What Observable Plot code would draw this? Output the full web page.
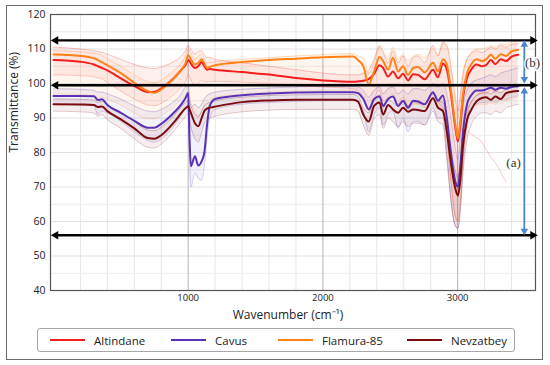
<!DOCTYPE html>
<html><head><meta charset="utf-8">
<script src="https://cdn.jsdelivr.net/npm/d3@7"></script>
<script src="https://cdn.jsdelivr.net/npm/@observablehq/plot@0.6"></script>
<style>
body{margin:0;background:#fff;font-family:"Open Sans",sans-serif;}
#fig{position:relative;width:550px;height:365px;overflow:hidden;background:#fff}
#frame{position:absolute;left:6px;top:5px;width:537px;height:355px;border:1.5px solid #6b6b6b;box-sizing:border-box;pointer-events:none}
#chart{position:absolute;left:0;top:0;}
#legend{position:absolute;left:37px;top:328px;width:478px;height:24px;border:1px solid #a8a8a8;border-radius:3px;box-sizing:border-box;background:#fff}
.item{position:absolute;top:0;height:22px;display:flex;align-items:center;font-size:11.5px;color:#222}
.sw{display:inline-block;width:35px;height:2.5px;margin-right:9px}
</style></head>
<body>
<div id="fig"><div id="chart"></div><div id="legend"></div><div id="frame"></div></div>
<script>
// ---- data ----
const varieties = ["Altindane", "Cavus", "Flamura-85", "Nevzatbey"];
const colors = ["#f21d1d", "#5a32b4", "#ff8117", "#7a0c10"];
const wn = [0,200,300,330,360,400,500,600,700,750,800,900,950,980,1000,1010,1020,1050,1075,1100,1120,1140,1160,1200,1400,1600,1800,2000,2225,2260,2300,2340,2380,2420,2447,2484,2520,2558,2595,2632,2670,2706,2756,2817,2854,2891,2920,2950,2980,3002,3020,3040,3070,3100,3140,3180,3210,3247,3280,3320,3360,3400,3450];
const altindane = [106.8,106.3,105.5,105.0,104.5,103.8,101.5,99.3,97.5,97.6,98.6,101.8,104.0,105.3,106.8,106.4,105.8,104.5,105.0,106.2,105.0,104.0,104.2,104.0,103.3,102.6,101.6,100.9,100.5,100.6,100.8,101.3,102.8,105.3,104.5,102.0,103.5,101.5,102.8,100.9,102.7,102.5,101.2,104.0,101.8,105.8,104.0,97.0,88.0,83.2,88.0,96.0,101.6,104.0,105.5,105.0,105.3,106.8,105.6,107.0,106.5,107.8,108.3];
const cavus = [96.4,96.4,96.3,95.2,95.4,93.8,91.5,89.2,87.2,87.2,88.3,91.8,94.0,95.8,97.3,84.0,76.0,78.9,76.2,77.5,80.0,88.0,93.5,95.5,96.6,97.1,97.4,97.5,97.5,97.2,95.5,92.5,95.5,96.3,93.5,95.5,96.2,93.5,95.0,93.0,95.0,94.8,94.0,97.5,95.0,96.5,90.0,80.0,72.0,70.0,76.0,86.0,94.0,96.5,98.0,98.0,98.3,98.8,98.2,98.8,98.5,99.0,99.2];
const flamura = [108.4,108.0,107.3,106.8,106.2,105.3,103.0,100.2,97.8,97.3,98.3,101.8,104.0,105.8,108.2,107.8,107.0,105.5,106.0,107.0,105.8,104.5,104.8,105.3,106.2,106.8,107.2,107.6,107.8,106.8,105.0,99.8,103.5,107.7,106.5,104.0,107.5,103.5,105.0,102.5,104.5,104.8,103.2,106.0,103.5,107.0,105.5,98.0,89.0,84.0,89.0,97.0,103.0,105.5,107.0,106.5,107.0,108.3,107.2,108.5,108.0,109.3,109.8];
const nevzatbey = [94.0,93.9,93.8,93.2,93.3,92.0,89.6,87.0,84.2,84.0,85.0,89.0,91.5,92.8,93.4,92.5,91.5,88.5,87.6,90.0,92.0,92.7,93.0,93.3,94.6,95.1,95.3,95.3,95.3,94.8,91.0,89.0,93.5,94.5,91.0,93.8,92.5,91.5,93.0,91.8,92.5,92.3,92.0,95.7,93.0,92.0,86.0,77.0,70.0,67.5,72.0,82.0,89.5,92.3,94.8,95.8,96.0,95.3,96.2,95.5,97.2,97.6,97.8];
// replicate spread (upper / lower faint lines)
const altHi = [110.5,110.0,109.5,109.3,109.0,108.5,107.0,105.5,104.5,104.3,104.8,106.5,108.0,109.5,111.0,110.5,110.0,108.5,109.3,109.5,108.3,107.5,107.5,107.0,106.0,105.0,104.0,103.0,102.5,102.5,103.0,104.0,107.0,111.0,109.0,106.0,109.5,106.0,108.0,105.0,107.5,108.0,106.0,111.0,108.0,112.0,111.0,105.0,97.0,92.0,97.0,103.0,107.0,108.5,109.5,109.0,109.5,110.5,110.0,111.0,110.5,111.3,111.5];
const altLo = [102.5,102.3,102.0,101.5,101.3,100.2,97.8,95.5,93.8,93.6,94.3,97.0,99.0,100.5,102.5,102.0,101.0,99.5,100.0,101.0,100.5,100.5,100.5,100.6,100.4,100.0,99.5,99.0,98.5,98.0,96.0,93.0,96.0,98.0,95.0,96.0,97.0,94.0,96.0,93.5,95.0,95.0,94.0,97.0,94.5,93.0,85.0,72.0,62.0,60.0,66.0,78.0,90.0,94.5,96.5,97.0,97.0,98.0,97.5,98.5,98.5,99.0,99.5];
const cavHi = [98.5,98.3,98.0,97.5,97.5,97.0,95.5,93.5,92.0,91.8,92.5,95.0,97.0,99.0,99.5,97.0,93.0,94.0,93.0,94.0,95.5,96.5,97.0,97.5,98.3,98.7,99.0,99.2,99.2,99.0,98.0,96.0,98.0,99.0,97.0,98.5,99.0,97.0,98.0,97.0,98.5,98.5,98.0,100.0,99.0,100.0,97.0,90.0,82.0,78.0,84.0,93.0,98.0,100.0,101.0,101.5,102.0,102.5,102.0,103.0,103.5,104.0,104.5];
const cavLo = [94.0,93.8,93.5,91.0,92.0,91.5,89.0,86.0,83.5,83.0,84.0,88.0,91.0,93.0,94.0,78.0,70.0,74.0,72.5,72.0,76.0,84.0,90.0,92.5,94.0,94.5,94.8,95.0,95.0,94.5,92.0,86.0,91.0,93.0,88.0,91.0,92.0,87.0,90.0,86.0,89.0,89.0,88.0,93.0,90.0,90.0,80.0,67.0,59.0,58.0,64.0,76.0,88.0,92.0,94.0,94.5,94.5,95.0,94.5,95.5,95.5,96.0,96.5];
const flaHi = [109.5,109.2,108.8,108.6,108.2,107.2,105.0,102.5,100.5,100.2,101.0,104.0,106.0,108.0,110.0,109.8,109.0,107.0,108.0,108.5,107.0,106.0,106.0,106.3,107.0,107.5,108.0,108.4,108.7,108.0,107.5,103.0,106.0,110.5,109.5,107.0,110.5,107.0,108.5,106.5,108.0,108.5,107.5,110.0,108.0,111.5,111.0,105.0,96.0,90.0,95.0,102.0,107.0,109.0,110.0,110.0,110.3,111.0,110.5,111.5,111.3,112.0,112.3];
const flaLo = [97.0,96.8,96.5,95.8,96.0,95.5,93.8,91.5,89.8,89.8,90.8,93.5,95.5,96.5,97.5,96.0,94.5,91.5,90.5,92.0,94.0,95.0,95.5,96.0,97.0,97.5,97.8,98.0,98.0,97.5,95.5,92.0,95.0,97.0,94.0,95.5,96.0,93.0,95.0,92.5,94.0,94.0,93.0,96.0,93.5,92.0,84.0,72.0,62.0,60.0,66.0,78.0,88.0,92.0,93.5,94.0,94.0,94.5,94.0,95.0,95.0,95.5,96.0];
const nevHi = [95.5,95.4,95.2,94.5,94.8,93.8,91.5,89.0,86.5,86.3,87.3,91.0,93.3,94.5,95.0,94.5,93.5,91.0,90.5,92.0,93.5,94.2,94.5,95.0,96.0,96.5,96.7,96.8,96.8,96.3,93.0,91.5,95.0,96.0,93.0,95.3,94.5,93.5,94.5,93.5,94.5,94.3,94.0,97.0,95.0,94.5,89.0,81.0,75.0,73.0,77.0,86.0,92.0,94.5,96.5,97.3,97.5,97.0,97.8,97.3,98.5,99.0,99.2];
const nevLo = [92.0,91.8,91.5,90.5,91.0,89.5,87.0,84.0,81.5,81.3,82.5,86.5,89.0,90.5,91.3,89.5,87.5,84.0,83.0,86.0,88.5,89.5,90.0,90.5,91.8,92.3,92.5,92.5,92.5,92.0,88.0,85.0,90.0,91.0,87.0,90.0,89.0,87.5,89.0,87.5,88.5,88.5,88.0,92.0,89.0,88.0,78.0,66.0,59.0,58.0,63.0,74.0,84.0,88.0,90.5,91.5,91.5,91.0,92.0,91.5,93.0,93.5,94.0];
// one stray faint replicate at the right
const strayWn = [3080,3130,3170,3210,3250,3290,3330,3360];
const strayT = [86,84.5,83.5,81,78.5,76.5,73.5,71.5];
// ticks and annotations
const xTicks = [1000, 2000, 3000];
const xMinor = [200,400,600,800,1200,1400,1600,1800,2200,2400,2600,2800,3200,3400];
const yTicks = [40,50,60,70,80,90,100,110,120];
const yMinor = [45,55,65,75,85,95,105,115];
const arrowLevels = [112.5, 99.5, 56];
const arrowSpan = [-20, 3595];
const bracketX = 3495;
const brackets = [{name:"(b)", top:112.5, bottom:100.0, lx:3556, ly:106}, {name:"(a)", top:99.0, bottom:56.0, lx:3415, ly:77}];

const means = [altindane, cavus, flamura, nevzatbey];
const his = [altHi, cavHi, flaHi, nevHi];
const los = [altLo, cavLo, flaLo, nevLo];

const rowsFor = i => wn.map((w, j) => ({wn: w, t: means[i][j], hi: his[i][j], lo: los[i][j]}));
const tables = varieties.map((_, i) => rowsFor(i));
const stray = strayWn.map((w, j) => ({wn: w, t: strayT[j]}));
const curve = "monotone-x";

const bandMarks = tables.map((rows, i) => Plot.areaY(rows, {x: "wn", y1: "lo", y2: "hi", fill: colors[i], fillOpacity: 0.07, curve}));
const thinMarks = tables.flatMap((rows, i) => [
  Plot.lineY(rows, {x: "wn", y: "hi", stroke: colors[i], strokeOpacity: 0.3, strokeWidth: 0.8, curve}),
  Plot.lineY(rows, {x: "wn", y: "lo", stroke: colors[i], strokeOpacity: 0.3, strokeWidth: 0.8, curve})
]);
const boldMarks = tables.map((rows, i) => Plot.lineY(rows, {x: "wn", y: "t", stroke: colors[i], strokeWidth: 2, curve}));

const blue = "#4a86c8";
const chart = Plot.plot({
  width: 550, height: 325,
  marginLeft: 50, marginRight: 15, marginTop: 14, marginBottom: 35,
  x: {domain: [-22, 3578]},
  y: {domain: [40, 120]},
  style: {fontFamily: "Open Sans", fontSize: "10px", color: "#222", background: "transparent"},
  marks: [
    Plot.gridX(xMinor, {stroke: "#e6e6e6", strokeOpacity: 1}),
    Plot.gridY(yMinor, {stroke: "#ececec", strokeOpacity: 1}),
    Plot.gridY(yTicks, {stroke: "#e2e2e2", strokeOpacity: 1}),
    Plot.gridX(xTicks, {stroke: "#b4b4b4", strokeOpacity: 1}),
    ...bandMarks,
    ...thinMarks,
    Plot.lineY(stray, {x: "wn", y: "t", stroke: colors[0], strokeOpacity: 0.3, strokeWidth: 0.8, curve}),
    ...boldMarks,
    Plot.frame({stroke: "#555", strokeWidth: 1.2}),
    Plot.axisX(xTicks, {tickSize: 0, tickPadding: 4, label: null, fontSize: 9.5, tickFormat: d => String(d)}),
    Plot.axisY(yTicks, {tickSize: 0, tickPadding: 5, label: null, fontSize: 10.5, tickFormat: d => String(d)}),
    Plot.text(["Wavenumber (cm⁻¹)"], {frameAnchor: "bottom", dy: 28, dx: -5, fontSize: 12, fontWeight: 500, fill: "#222"}),
    Plot.text(["Transmittance (%)"], {frameAnchor: "left", rotate: -90, dx: -36, fontSize: 12, fontWeight: 500, fill: "#222"}),
    // black horizontal double arrows
    Plot.arrow(arrowLevels, {x1: arrowSpan[0], x2: arrowSpan[1], y1: d => d, y2: d => d, headLength: 0, inset: 4, stroke: "black", strokeWidth: 2.4}),
    Plot.dot(arrowLevels, {x: arrowSpan[1], y: d => d, symbol: "triangle", r: 3.2, rotate: 90, dx: -5, fill: "black", stroke: "none"}),
    Plot.dot(arrowLevels, {x: arrowSpan[0], y: d => d, symbol: "triangle", r: 3.2, rotate: -90, dx: 5, fill: "black", stroke: "none"}),
    // blue vertical double arrows
    Plot.arrow(brackets, {x1: bracketX, x2: bracketX, y1: "top", y2: "bottom", headLength: 0, inset: 4, stroke: blue, strokeWidth: 1.8}),
    Plot.dot(brackets, {x: bracketX, y: "top", symbol: "triangle", r: 2.8, rotate: 0, dy: 4.3, fill: blue, stroke: "none"}),
    Plot.dot(brackets, {x: bracketX, y: "bottom", symbol: "triangle", r: 2.8, rotate: 180, dy: -4.3, fill: blue, stroke: "none"}),
    Plot.text(brackets, {x: "lx", y: "ly", text: "name", fontFamily: "Liberation Serif", fontSize: 13, fill: "#333", stroke: "white", strokeWidth: 3})
  ]
});
document.getElementById("chart").append(chart);

// legend below the plot
const legend = document.getElementById("legend");
const legendX = [12, 133, 240, 369];
varieties.forEach((name, i) => {
  const it = document.createElement("div");
  it.className = "item";
  it.style.left = legendX[i] + "px";
  const sw = document.createElement("span");
  sw.className = "sw";
  sw.style.background = colors[i];
  it.append(sw, document.createTextNode(name));
  legend.append(it);
});
</script>
</body></html>
